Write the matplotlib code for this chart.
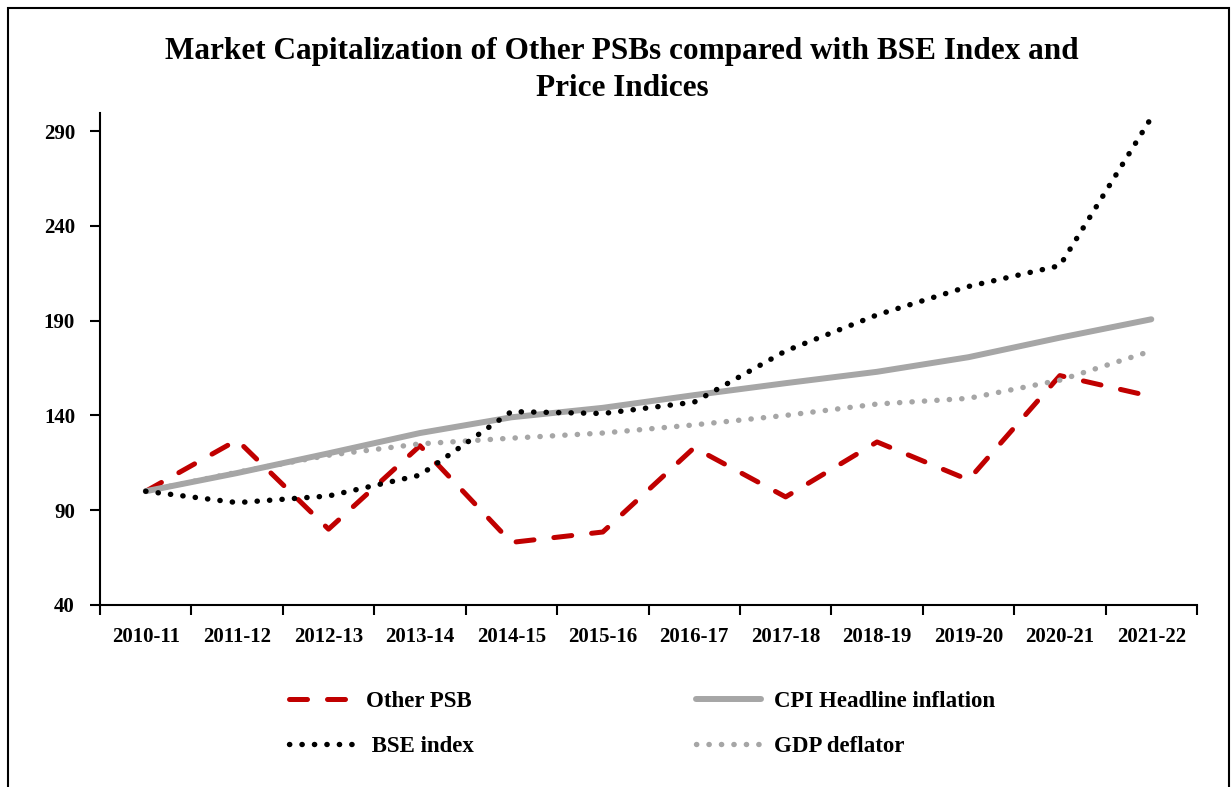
import numpy as np
import matplotlib
matplotlib.use('Agg')
import matplotlib.pyplot as plt
from matplotlib.patches import Rectangle

years = ['2010-11', '2011-12', '2012-13', '2013-14', '2014-15', '2015-16',
         '2016-17', '2017-18', '2018-19', '2019-20', '2020-21', '2021-22']
other_psb = [100, 127, 80, 124, 73, 78.5, 123, 97, 126, 106, 161, 150]
bse_index = [100, 94, 97.5, 108.5, 142, 141, 147, 174, 193, 208, 219, 297]
cpi = [100, 109.6, 120, 130.7, 139, 144, 150.7, 157, 163, 170.7, 181, 190.7]
gdp_defl = [100, 110, 119, 125, 128, 130.7, 135, 140, 146, 149, 158.6, 174]
yticks = [40, 90, 140, 190, 240, 290]

RED = '#C00000'; GREY = '#A6A6A6'
plt.rcParams['font.family'] = ['Liberation Serif', 'DejaVu Serif']
plt.rcParams['font.weight'] = 'bold'

fig = plt.figure(figsize=(12.32, 7.87), dpi=100)
ax = fig.add_axes([100/1232, 1-605/787, (1197-100)/1232, (605-113)/787])
x = np.arange(len(years))

l1, = ax.plot(x, other_psb, color=RED, lw=3.6, dashes=(3.6, 4.0), dash_capstyle='round', label='Other PSB')
l3, = ax.plot(x, cpi, color=GREY, lw=4.3, solid_capstyle='round', label='CPI Headline inflation')
l4, = ax.plot(x, gdp_defl, color=GREY, lw=3.9, dashes=(0.05, 2.25), dash_capstyle='round', label='GDP deflator')
l2, = ax.plot(x, bse_index, color='black', lw=3.9, dashes=(0.05, 2.25), dash_capstyle='round', label=' BSE index')

ax.set_xlim(-0.5, len(years)-0.5)
ax.set_ylim(40, 299.5)
ax.set_yticks(yticks)
ax.set_xticks(np.arange(-0.5, len(years)), minor=False)
ax.set_xticklabels([])
ax.set_xticks(x, minor=True)
ax.set_xticklabels(years, minor=True, fontsize=15, fontweight='bold')
ax.tick_params(axis='x', which='minor', length=0, pad=16)
ax.tick_params(axis='x', which='major', length=7, width=1.5, direction='out')
ax.tick_params(axis='y', length=7, width=1.5, direction='out', labelsize=15, pad=11)
for s in ['top', 'right']:
    ax.spines[s].set_visible(False)
for s in ['left', 'bottom']:
    ax.spines[s].set_linewidth(1.5)

fig.text(0.505, 1-51/787, 'Market Capitalization of Other PSBs compared with BSE Index and',
         ha='center', va='center', fontsize=22.5, fontweight='bold')
fig.text(0.505, 1-88/787, 'Price Indices', ha='center', va='center', fontsize=22.5, fontweight='bold')

fig.legend(handles=[l1, l2, l3, l4], loc='center', bbox_to_anchor=(0.521, 1-724/787),
           ncol=2, frameon=False, fontsize=16.5, handlelength=2.8, columnspacing=9.7,
           labelspacing=1.05, handletextpad=0.57)

fig.patches.append(Rectangle((8/1232, -0.1), (1229-8)/1232, 1.1-8/787, transform=fig.transFigure,
                             fill=False, edgecolor='black', lw=1.5))
fig.savefig('out.png', dpi=100)
